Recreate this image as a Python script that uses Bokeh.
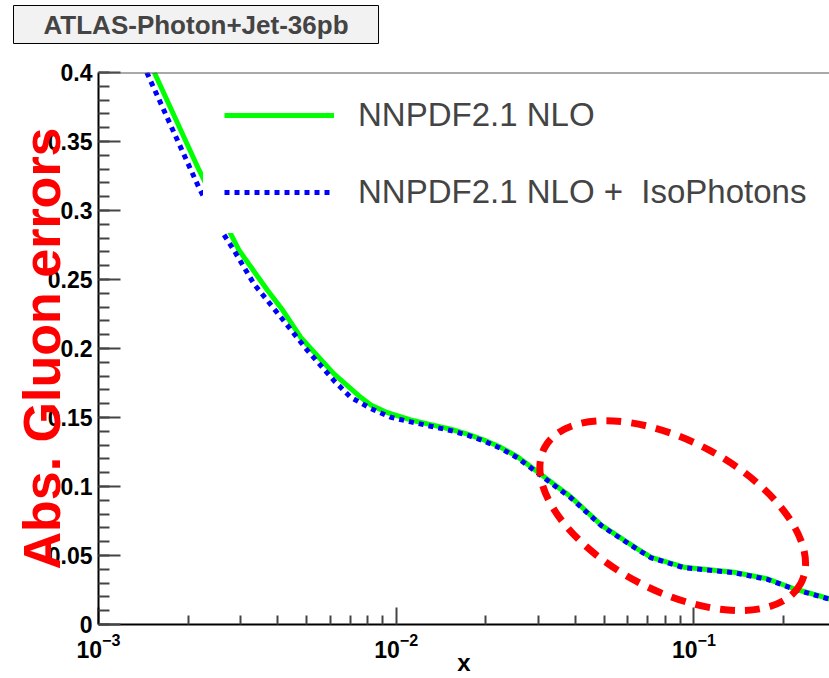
import math
from bokeh.plotting import figure
from bokeh.models import Legend, LegendItem, FixedTicker, Span, Range1d, Title
from bokeh.embed import file_html
from bokeh.resources import INLINE

# ---- data ----
x_green = [1.54e-3, 2.18e-3, 2.75e-3, 2.97e-3, 3.70e-3, 4.15e-3, 4.78e-3, 6.18e-3, 7.6e-3,
           8.22e-3, 9.35e-3, 1.119e-2, 1.307e-2, 1.526e-2, 1.736e-2, 1.974e-2, 2.245e-2,
           2.556e-2, 2.983e-2, 3.48e-2, 3.86e-2, 4.9e-2, 6.46e-2, 7.19e-2, 9.27e-2,
           0.1365, 0.1766, 0.217, 0.2858]
y_green = [0.400, 0.329, 0.285, 0.271, 0.242, 0.228, 0.208, 0.1816, 0.1646,
           0.159, 0.1535, 0.1482, 0.1448, 0.1415, 0.1380, 0.1337, 0.1284,
           0.1216, 0.1107, 0.0998, 0.0925, 0.0718, 0.0548, 0.0487, 0.0415,
           0.0379, 0.0331, 0.0259, 0.0186]

x_blue = [1.453e-3, 2.18e-3, 2.61e-3, 2.854e-3, 3.33e-3, 4.10e-3, 5.04e-3, 6.18e-3, 7.04e-3,
          8.22e-3, 9.59e-3, 1.119e-2, 1.307e-2, 1.526e-2, 1.736e-2, 1.974e-2, 2.245e-2,
          2.556e-2, 2.983e-2, 3.48e-2, 3.86e-2, 4.9e-2, 6.46e-2, 7.19e-2, 9.27e-2,
          0.1365, 0.1766, 0.217, 0.2858]
y_blue = [0.400, 0.316, 0.284, 0.271, 0.2467, 0.2226, 0.1984, 0.1767, 0.1646,
          0.1565, 0.1502, 0.1468, 0.1437, 0.1405, 0.1372, 0.1329, 0.1276,
          0.1208, 0.1099, 0.0990, 0.0918, 0.0714, 0.0544, 0.0483, 0.0411,
          0.0375, 0.0327, 0.0256, 0.0183]

series_labels = ["NNPDF2.1 NLO", "NNPDF2.1 NLO +  IsoPhotons"]
title_text = "ATLAS-Photon+Jet-36pb"
y_title = "Abs. Gluon errors"
x_title = "x"

y_ticks = [0, 0.05, 0.1, 0.15, 0.2, 0.25, 0.3, 0.35, 0.4]
y_tick_labels = ["0", "0.05", "0.1", "0.15", "0.2", "0.25", "0.3", "0.35", "0.4"]
y_minor = [i / 100 for i in range(0, 41)]
x_ticks = [1e-3, 1e-2, 1e-1]
x_minor = [m * d for d in (1e-3, 1e-2, 1e-1) for m in range(2, 10)]

# highlighted region (ellipse centre in data units)
ell_x = [0.0849]
ell_y = [0.0789]

FONT = "Liberation Sans"

p = figure(width=829, height=678, x_axis_type="log",
           x_range=Range1d(1e-3, 0.2855), y_range=Range1d(0, 0.4),
           output_backend="svg", toolbar_location=None,
           min_border_left=98, min_border_right=0, min_border_top=72, min_border_bottom=54)
p.title.visible = False
p.outline_line_color = None
p.background_fill_color = "white"
p.border_fill_color = "white"
p.xgrid.visible = False
p.ygrid.visible = False

# spacer between frame and title box, then the title box itself
spacer = Title(text=" ", text_font_size="24px", standoff=0)
p.add_layout(spacer, "above")
box_title = Title(text=title_text, text_font=FONT, text_font_style="bold", text_font_size="26px",
                  align="left", offset=-85, standoff=0,
                  background_fill_color="#f2f2f2", border_line_color="black", border_line_width=1,
                  padding=dict(left=30, right=30, top=4, bottom=4))
p.add_layout(box_title, "above")

for ax in (p.xaxis[0], p.yaxis[0]):
    ax.axis_line_color = "black"
    ax.axis_line_width = 2
    ax.major_tick_line_color = "#444444"
    ax.minor_tick_line_color = "#444444"
    ax.major_tick_line_width = 2
    ax.minor_tick_line_width = 2
    ax.major_tick_out = 0
    ax.minor_tick_out = 0
    ax.major_label_text_font = FONT
    ax.major_label_text_font_style = "bold"
    ax.major_label_text_font_size = "23px"
    ax.major_label_text_color = "black"

yax = p.yaxis[0]
yax.ticker = FixedTicker(ticks=y_ticks, minor_ticks=y_minor)
yax.major_label_overrides = dict(zip(y_ticks, y_tick_labels))
yax.major_tick_in = 22
yax.minor_tick_in = 11
yax.major_label_standoff = 6
yax.axis_label = y_title
yax.axis_label_text_font = FONT
yax.axis_label_text_font_style = "bold"
yax.axis_label_text_font_size = "52px"
yax.axis_label_text_color = "#ff0000"
yax.axis_label_standoff = -26

xax = p.xaxis[0]
xax.ticker = FixedTicker(ticks=x_ticks, minor_ticks=x_minor)
xax.major_tick_in = 17
xax.minor_tick_in = 9
xax.major_label_standoff = 8
xax.axis_label = x_title
xax.axis_label_text_font = FONT
xax.axis_label_text_font_style = "bold"
xax.axis_label_text_font_size = "24px"
xax.axis_label_text_color = "black"
xax.axis_label_standoff = -12

r_g = p.line(x_green, y_green, line_color="#00ff00", line_width=5, line_join="round")
r_b = p.line(x_blue, y_blue, line_color="#0000ff", line_width=5, line_dash="5 5")

p.ellipse(x=ell_x, y=ell_y, width=290, height=150, width_units="screen", height_units="screen",
          angle=-0.487, fill_alpha=0, line_color="#ff0000", line_width=7, line_dash="15 10")

legend = Legend(items=[LegendItem(label=series_labels[0], renderers=[r_g]),
                       LegendItem(label=series_labels[1], renderers=[r_b])],
                location=(105, 391), padding=20, spacing=37, glyph_width=110, glyph_height=40,
                label_height=40, label_standoff=24, label_text_font=FONT,
                label_text_font_size="33px", border_line_color="white", border_line_width=1,
                background_fill_color="white", background_fill_alpha=1.0, margin=0)
p.add_layout(legend)

# top frame edge (drawn after the legend so it stays visible)
p.add_layout(Span(location=0.4, dimension="width", line_color="#555555", line_width=2))

open("out.html", "w").write(file_html(p, INLINE))
